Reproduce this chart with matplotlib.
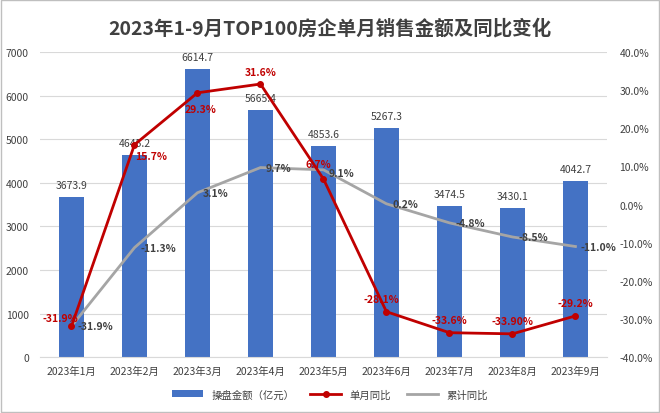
import matplotlib

matplotlib.use("Agg")
import matplotlib.pyplot as plt
from matplotlib.ticker import FuncFormatter, MultipleLocator

plt.rcParams["font.family"] = ["Noto Sans CJK SC", "DejaVu Sans"]

months = [f"2023年{m}月" for m in range(1, 10)]
sales = [3673.9, 4645.2, 6614.7, 5665.4, 4853.6, 5267.3, 3474.5, 3430.1, 4042.7]
monthly_yoy = [-31.9, 15.7, 29.3, 31.6, 6.7, -28.1, -33.6, -33.9, -29.2]
monthly_text = ["-31.9%", "15.7%", "29.3%", "31.6%", "6.7%", "-28.1%", "-33.6%", "-33.90%", "-29.2%"]
cum_yoy = [-31.9, -11.3, 3.1, 9.7, 9.1, 0.2, -4.8, -8.5, -11.0]

# label offsets (points) for the monthly red labels
red_offsets = [(-8, 6), (12, -8), (2, -12), (0, 9), (-4, 11), (-4, 9), (0, 9), (0, 9), (0, 9)]

BLUE = "#4472C4"
RED = "#C00000"
GRAY = "#A5A5A5"
TEXT = "#404040"

fig = plt.figure(figsize=(6.6, 4.14), dpi=100)
ax = fig.add_axes([0.0606, 0.135, 0.859, 0.737])
ax2 = ax.twinx()

x = list(range(len(months)))
ax.bar(x, sales, width=0.4, color=BLUE, label="操盘金额（亿元）", zorder=2)
for xi, v in zip(x, sales):
    ax.annotate(f"{v:.1f}", (xi, v), xytext=(0, 5), textcoords="offset points",
                ha="center", va="bottom", fontsize=7.5, color=TEXT)

ax.set_ylim(0, 7000)
ax.set_xlim(-0.5, len(months) - 0.5)
ax.yaxis.set_major_locator(MultipleLocator(1000))
ax.grid(axis="y", color="#D9D9D9", linewidth=0.8, zorder=0)
ax.set_axisbelow(True)
ax.set_xticks(x)
ax.set_xticklabels(months, fontsize=7.5, color=TEXT)
ax.tick_params(axis="y", labelsize=7.5, labelcolor=TEXT, length=0, pad=8)
ax.tick_params(axis="x", length=0, pad=6)

ax2.plot(x, monthly_yoy, color=RED, linewidth=2, marker="o", markersize=4,
         label="单月同比", zorder=4)
ax2.plot(x, cum_yoy, color=GRAY, linewidth=2, label="累计同比", zorder=3)
ax2.set_ylim(-40, 40)
ax2.yaxis.set_major_locator(MultipleLocator(10))
ax2.yaxis.set_major_formatter(FuncFormatter(lambda v, _: f"{v:.1f}%"))
ax2.tick_params(axis="y", labelsize=7.5, labelcolor=TEXT, length=0, pad=9)

for xi, v, t, off in zip(x, monthly_yoy, monthly_text, red_offsets):
    ax2.annotate(t, (xi, v), xytext=off, textcoords="offset points",
                 ha="center", va="center", fontsize=7.5, color=RED, fontweight="bold")
for i, (xi, v) in enumerate(zip(x, cum_yoy)):
    dy = -2 if i == 4 else 0
    ax2.annotate(f"{v:.1f}%", (xi, v), xytext=(4, dy), textcoords="offset points",
                 ha="left", va="center", fontsize=7.5, color=TEXT, fontweight="bold")

for a in (ax, ax2):
    for side in ("top", "left", "right"):
        a.spines[side].set_visible(False)
ax.spines["bottom"].set_color("#D9D9D9")
ax2.spines["bottom"].set_visible(False)

h1, l1 = ax.get_legend_handles_labels()
h2, l2 = ax2.get_legend_handles_labels()
fig.legend(h1 + h2, l1 + l2, loc="center", bbox_to_anchor=(0.5, 0.045), ncol=3,
           frameon=False, fontsize=7.5, labelcolor=TEXT, handlelength=3, columnspacing=1.5)

fig.text(0.5, 0.93, "2023年1-9月TOP100房企单月销售金额及同比变化", ha="center", va="center",
         fontsize=14, fontweight="bold", color=TEXT)

fig.patches.append(plt.Rectangle((0.002, 0.002), 0.996, 0.996, transform=fig.transFigure,
                                 fill=False, edgecolor="#BFBFBF", linewidth=1))

fig.savefig("out.png", dpi=100)
